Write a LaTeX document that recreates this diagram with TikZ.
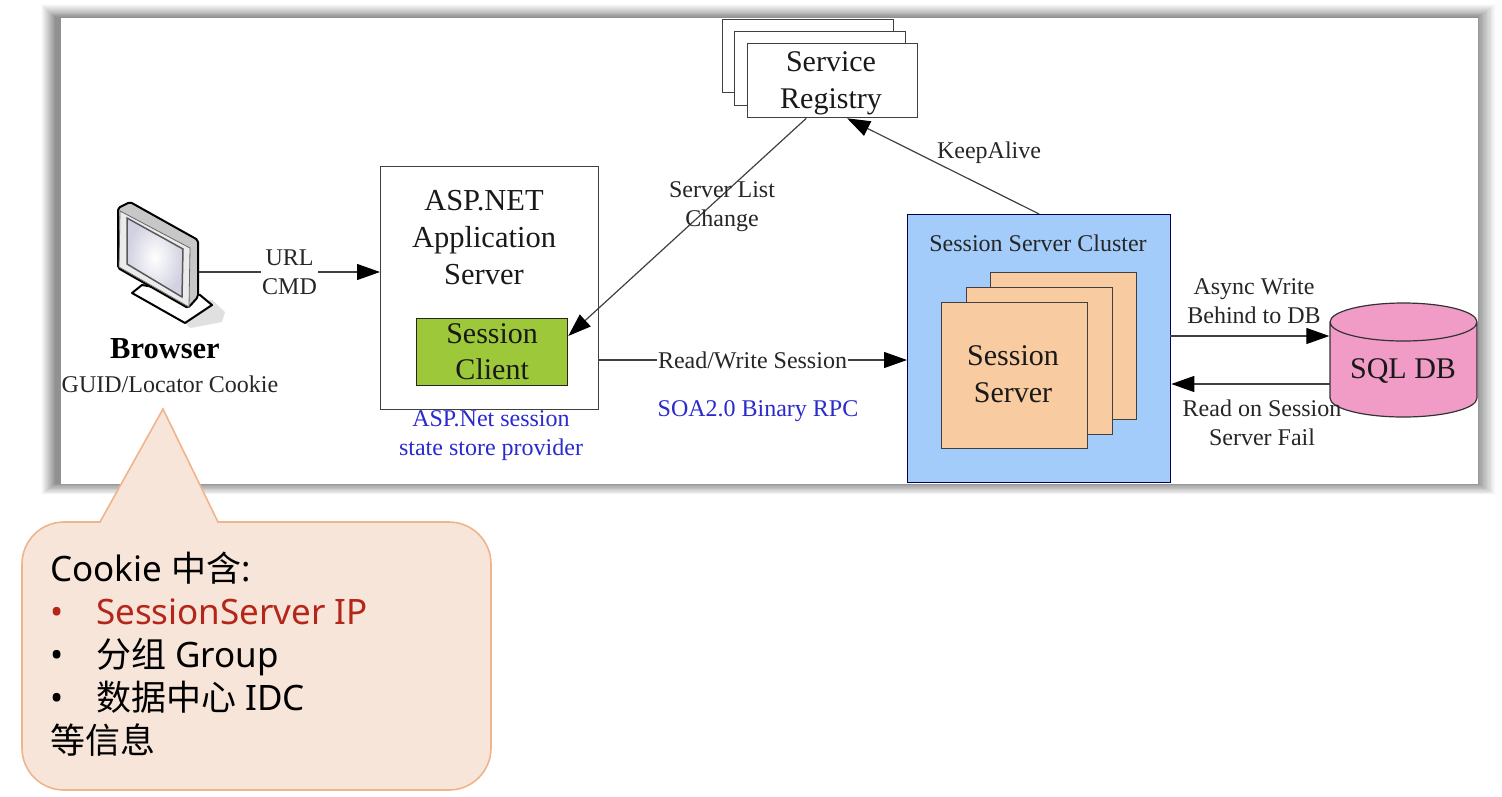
\documentclass[tikz,border=0pt]{standalone}
\usepackage{fontspec}
\usepackage{tikz}
\setmainfont{Liberation Serif}
\newfontfamily\cjk{Noto Sans CJK SC}
\newfontfamily\notefont{Noto Sans}
\usetikzlibrary{arrows.meta}
\definecolor{clusterblue}{HTML}{A3CCFB}
\definecolor{serverorange}{HTML}{F8CBA0}
\definecolor{clientgreen}{HTML}{9DC83A}
\definecolor{dbpink}{HTML}{F09CC6}
\definecolor{noteblue}{HTML}{2A2ACF}
\definecolor{notefill}{HTML}{F8E5D9}
\definecolor{noteline}{HTML}{F0B48C}
\definecolor{notered}{HTML}{B5261A}
\tikzset{
  big/.style={font=\fontsize{30}{37}\selectfont,align=center,text=black!90},
  small/.style={font=\fontsize{24}{29}\selectfont,align=center,text=black!85},
  bluetxt/.style={small,text=noteblue},
  card/.style={draw=black!75,line width=1.3pt,fill=white,inner sep=0pt,anchor=north west},
  flow/.style={draw=black!75,line width=1.2pt,-{Triangle[length=23pt,width=16pt,color=black]}},
  tube/.style={line width=2pt,draw=black,line join=round},
}
\begin{document}
\begin{tikzpicture}[x=1pt,y=-1pt]
  \useasboundingbox (0,0) rectangle (1502,796);
  % frame with its shadow
  \foreach \d in {0,...,14} {
    \pgfmathsetmacro\shade{1+3*\d}
    \fill[black!\shade] (41+\d,4+.95*\d) rectangle (1496-1.3*\d,495-.8*\d);
  }
  \fill[white] (61,18) rectangle (1478,484);
  % registry
  \node[card,minimum width=171pt,minimum height=73pt] (registry3) at (722,19) {};
  \node[card,minimum width=171pt,minimum height=74pt] (registry2) at (734,31) {};
  \node[card,minimum width=170pt,minimum height=74pt] (registry) at (747,43) {};
  \node[big] (registrytext) at (831,83) {Service\\Registry};
  % application server
  \node[card,minimum width=218pt,minimum height=243pt] (asp) at (380,166) {};
  \node[big,font=\fontsize{30.5}{37}\selectfont] (asptext) at (484,238) {ASP.NET\\Application\\Server};
  \node[card,big,fill=clientgreen,draw=black!85,minimum width=151pt,minimum height=67pt] (client) at (416,318) {Session\\[-1pt]Client};
  % session cluster
  \node[card,fill=clusterblue,draw=black!70!blue,minimum width=263pt,minimum height=268pt] (cluster) at (907,214) {};
  \node[small] (clustertext) at (1038,243) {Session Server Cluster};
  \node[card,fill=serverorange,minimum width=146pt,minimum height=147pt] (server3) at (990,272) {};
  \node[card,fill=serverorange,minimum width=146pt,minimum height=147pt] (server2) at (966,287) {};
  \node[card,fill=serverorange,minimum width=146pt,minimum height=146pt] (server) at (941,302) {};
  \node[big] (servertext) at (1013,374.5) {Session\\Server};
  % database
  \draw[fill=dbpink,draw=black!80,line width=1.2pt] (1330,322) -- (1330,398)
    arc[start angle=180,end angle=360,x radius=73.5pt,y radius=19pt] -- (1477,322)
    arc[start angle=0,end angle=180,x radius=73.5pt,y radius=19pt]
    arc[start angle=180,end angle=360,x radius=73.5pt,y radius=19pt];
  \node[big,minimum width=147pt,inner sep=0pt] (db) at (1403,371) {SQL DB};
  % monitor
  \fill[black!12] (165,300) -- (212,300) -- (225,312) -- (222,322) -- (190,328) -- cycle;
  \draw[tube,fill=white] (132,293) -- (142,285) -- (200,295) -- (212,305) -- (185,323) -- cycle;
  \draw[tube,rounded corners=2pt,fill=black!22] (118,208) -- (130,202) -- (198,240) -- (198,297) -- (188,308) -- (118,268) -- cycle;
  \draw[line width=.8pt,draw=black!60,fill=black!8] (120,211) -- (190,248) -- (189,307) -- (119,267) -- cycle;
  \draw[line width=1.5pt,draw=black!65,inner color=white,outer color=blue!35!black!18] (127,218) -- (183,249) -- (182,297) -- (127,264) -- cycle;
  \coordinate (monitor) at (199,272);
  \node[font=\fontsize{30.5}{34}\selectfont\bfseries] (browser) at (165,349) {Browser};
  \node[small] (cookie) at (170,384) {GUID/Locator Cookie};
  % connectors
  \coordinate (rwstart) at (598,360);
  \coordinate (dbout) at (1170,336);
  \coordinate (dbin) at (1330,384);
  \draw[flow] (monitor) -- node[small,fill=white,inner sep=1pt] (url) {URL\\CMD} (monitor -| asp.west);
  \draw[flow] (registry.-125) -- (client.12);
  \draw[flow] (cluster.north) -- (registry.-69);
  \draw[flow] (rwstart) -- node[small,fill=white,inner sep=1pt] (rw) {Read/Write Session} (rwstart -| cluster.west);
  \draw[flow] (dbout) -- (dbout -| db.west);
  \draw[flow] (dbin) -- (dbin -| cluster.east);
  % labels
  \node[small] (list) at (722,207) {Server List\\Change};
  \node[small] (alive) at (989,153) {KeepAlive};
  \node[small] (async) at (1254,301.5) {Async Write\\Behind to DB};
  \node[small] (fail) at (1262,423) {Read on Session\\Server Fail};
  \node[bluetxt] (provider) at (491,436) {ASP.Net session\\state store provider};
  \node[bluetxt] (rpc) at (758,411) {SOA2.0 Binary RPC};
  % callout
  \draw[fill=notefill,draw=noteline,line width=1.6pt] (100,522) -- (163,409) -- (218,522) [rounded corners=42pt] -- (491,522) -- (491,790) -- (22,790) -- (22,522) [sharp corners] -- cycle;
  \node[anchor=north west,inner sep=0pt,align=left,font=\notefont\fontsize{35}{43}\selectfont] (note) at (50,552) {Cookie {\cjk 中含}:\\
    {\color{notered}\makebox[46pt][l]{•}SessionServer IP}\\
    \makebox[46pt][l]{•}{\cjk 分组} Group\\
    \makebox[46pt][l]{•}{\cjk 数据中心} IDC\\
    {\cjk 等信息}};
\end{tikzpicture}
\end{document}
